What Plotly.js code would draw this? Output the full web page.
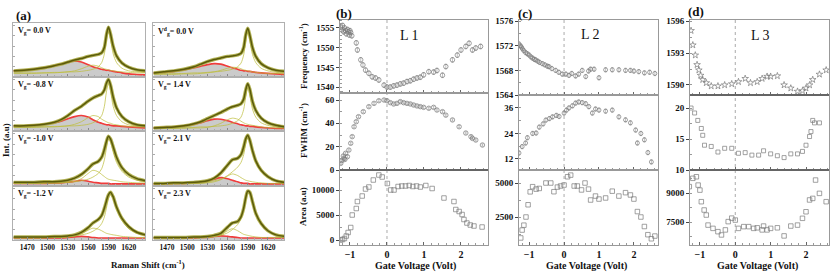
<!DOCTYPE html>
<html><head><meta charset="utf-8">
<script src="https://cdn.plot.ly/plotly-3.0.1.min.js"></script>
<style>html,body{margin:0;padding:0;background:#fff}#chart{width:830px;height:273px}</style>
</head><body><div id="chart"></div>
<script>
// ---------- (a) Raman spectra ----------
const ramanShift = [1450,1465,1480,1495,1510,1520,1530,1540,1550,1560,1567,1575,1580,1584,1587,1590,1593,1597,1602,1610,1620,1632,1645];
const ramanTicks = [1470,1500,1530,1560,1590,1620];
const specLabels = ['V<sub>g</sub>= 0.0 V','V<sub>g</sub>= -0.8 V','V<sub>g</sub>= -1.0 V','V<sub>g</sub>= -1.2 V',
                    'V<sup>d</sup><sub>g</sub>= 0.0 V','V<sub>g</sub>= 1.4 V','V<sub>g</sub>= 2.1 V','V<sub>g</sub>= 2.3 V'];

const a1Data = [0.12,0.13,0.15,0.18,0.22,0.25,0.29,0.33,0.36,0.40,0.42,0.44,0.47,0.58,0.82,0.97,0.84,0.60,0.41,0.27,0.19,0.14,0.12];
const a1Fit  = [0.12,0.13,0.15,0.18,0.22,0.25,0.29,0.31,0.29,0.24,0.20,0.17,0.15,0.14,0.13,0.13,0.12,0.11,0.10,0.08,0.06,0.05,0.04];
const a1Gm   = [0.07,0.07,0.07,0.08,0.08,0.09,0.10,0.12,0.16,0.21,0.23,0.21,0.18,0.16,0.15,0.14,0.13,0.12,0.11,0.10,0.09,0.08,0.08];
const a1Gp   = [0.08,0.08,0.08,0.08,0.09,0.09,0.10,0.10,0.11,0.13,0.15,0.20,0.28,0.45,0.72,0.90,0.74,0.45,0.28,0.17,0.12,0.10,0.09];

const a2Data = [0.10,0.10,0.11,0.13,0.17,0.22,0.30,0.40,0.48,0.58,0.64,0.69,0.72,0.80,0.93,1.00,0.90,0.66,0.45,0.28,0.18,0.12,0.10];
const a2Fit  = [0.10,0.10,0.11,0.13,0.16,0.19,0.24,0.28,0.30,0.27,0.22,0.17,0.15,0.13,0.12,0.12,0.11,0.10,0.10,0.09,0.08,0.07,0.06];
const a2Gm   = [0.07,0.07,0.07,0.08,0.08,0.09,0.10,0.13,0.18,0.26,0.30,0.28,0.23,0.20,0.18,0.16,0.15,0.13,0.12,0.10,0.09,0.08,0.08];
const a2Gp   = [0.08,0.08,0.08,0.08,0.09,0.09,0.10,0.10,0.11,0.13,0.16,0.22,0.30,0.48,0.76,0.92,0.78,0.48,0.30,0.18,0.12,0.10,0.09];

const a3Data = [0.07,0.07,0.07,0.08,0.08,0.09,0.11,0.15,0.22,0.33,0.42,0.47,0.55,0.70,0.85,0.95,0.90,0.75,0.55,0.35,0.22,0.14,0.10];
const a3Fit  = [0.05,0.05,0.05,0.05,0.06,0.06,0.07,0.09,0.11,0.09,0.07,0.06,0.05,0.05,0.05,0.05,0.04,0.04,0.04,0.04,0.04,0.04,0.04];
const a3Gm   = [0.05,0.05,0.05,0.05,0.06,0.06,0.07,0.09,0.14,0.24,0.30,0.27,0.22,0.18,0.15,0.13,0.12,0.11,0.10,0.08,0.07,0.06,0.06];
const a3Gp   = [0.05,0.05,0.05,0.06,0.06,0.06,0.07,0.08,0.10,0.13,0.17,0.24,0.33,0.50,0.72,0.90,0.85,0.65,0.45,0.28,0.17,0.11,0.08];

const a4Data = [0.06,0.06,0.06,0.06,0.07,0.07,0.08,0.10,0.15,0.24,0.33,0.40,0.48,0.62,0.76,0.88,0.93,0.84,0.64,0.42,0.26,0.15,0.10];
const a4Fit  = [0.04,0.04,0.04,0.04,0.04,0.04,0.05,0.06,0.07,0.06,0.05,0.04,0.04,0.04,0.04,0.04,0.04,0.04,0.04,0.04,0.04,0.04,0.04];
const a4Gm   = [0.04,0.04,0.04,0.05,0.05,0.05,0.06,0.08,0.12,0.19,0.23,0.21,0.18,0.15,0.13,0.12,0.11,0.10,0.09,0.07,0.06,0.05,0.05];
const a4Gp   = [0.05,0.05,0.05,0.05,0.06,0.06,0.07,0.08,0.10,0.13,0.17,0.24,0.32,0.45,0.62,0.80,0.88,0.80,0.60,0.38,0.22,0.13,0.09];

const a5Data = [0.08,0.10,0.12,0.15,0.20,0.25,0.30,0.34,0.37,0.40,0.41,0.43,0.46,0.58,0.82,0.95,0.82,0.58,0.40,0.26,0.18,0.13,0.11];
const a5Fit  = [0.08,0.09,0.11,0.14,0.18,0.21,0.24,0.26,0.25,0.21,0.18,0.15,0.13,0.12,0.12,0.11,0.11,0.10,0.09,0.08,0.07,0.06,0.05];
const a5Gm   = [0.05,0.05,0.05,0.06,0.06,0.07,0.08,0.10,0.13,0.17,0.19,0.18,0.16,0.14,0.13,0.12,0.11,0.10,0.09,0.08,0.07,0.07,0.06];
const a5Gp   = [0.07,0.07,0.07,0.07,0.08,0.08,0.09,0.10,0.11,0.13,0.15,0.20,0.27,0.43,0.70,0.88,0.72,0.44,0.28,0.17,0.12,0.09,0.08];

const a6Data = [0.06,0.07,0.08,0.10,0.14,0.18,0.24,0.30,0.36,0.43,0.47,0.50,0.53,0.62,0.80,0.92,0.82,0.58,0.40,0.25,0.16,0.11,0.08];
const a6Fit  = [0.06,0.07,0.08,0.10,0.13,0.16,0.20,0.23,0.23,0.20,0.17,0.14,0.12,0.11,0.10,0.10,0.09,0.09,0.08,0.07,0.06,0.05,0.05];
const a6Gm   = [0.05,0.05,0.05,0.05,0.06,0.06,0.07,0.10,0.15,0.22,0.25,0.23,0.19,0.16,0.14,0.13,0.12,0.11,0.10,0.08,0.07,0.06,0.06];
const a6Gp   = [0.06,0.06,0.06,0.07,0.07,0.08,0.08,0.09,0.10,0.12,0.15,0.20,0.27,0.42,0.66,0.84,0.70,0.43,0.27,0.16,0.11,0.08,0.07];

const a7Data = [0.05,0.05,0.06,0.06,0.07,0.08,0.10,0.15,0.25,0.40,0.50,0.53,0.60,0.75,0.90,0.97,0.88,0.68,0.48,0.30,0.18,0.10,0.07];
const a7Fit  = [0.04,0.04,0.05,0.05,0.06,0.07,0.09,0.13,0.16,0.14,0.11,0.08,0.06,0.05,0.05,0.05,0.04,0.04,0.04,0.04,0.04,0.04,0.04];
const a7Gm   = [0.04,0.04,0.04,0.05,0.05,0.05,0.06,0.08,0.12,0.19,0.23,0.20,0.16,0.13,0.11,0.10,0.09,0.08,0.07,0.06,0.05,0.05,0.05];
const a7Gp   = [0.05,0.05,0.05,0.06,0.06,0.07,0.08,0.10,0.13,0.20,0.27,0.36,0.45,0.60,0.80,0.93,0.85,0.65,0.45,0.28,0.17,0.10,0.07];

const a8Data = [0.05,0.05,0.05,0.05,0.06,0.06,0.07,0.09,0.13,0.25,0.33,0.36,0.45,0.62,0.82,0.95,0.93,0.75,0.52,0.32,0.18,0.10,0.07];
const a8Fit  = [0.04,0.04,0.04,0.04,0.04,0.05,0.05,0.07,0.08,0.07,0.06,0.05,0.04,0.04,0.04,0.04,0.04,0.04,0.04,0.04,0.04,0.04,0.04];
const a8Gm   = [0.04,0.04,0.04,0.04,0.05,0.05,0.05,0.07,0.10,0.18,0.22,0.18,0.14,0.11,0.10,0.09,0.08,0.07,0.06,0.05,0.05,0.05,0.05];
const a8Gp   = [0.05,0.05,0.05,0.05,0.05,0.06,0.06,0.07,0.09,0.14,0.20,0.30,0.42,0.60,0.80,0.92,0.90,0.72,0.50,0.30,0.17,0.10,0.07];

// ---------- (b) L 1 ----------
const bFreqGate = [-1.25,-1.22,-1.2,-1.17,-1.15,-1.12,-1.1,-1.07,-1.05,-1.02,-1.0,-0.98,-0.95,-0.83,-0.8,-0.71,-0.65,-0.58,-0.49,-0.4,-0.31,-0.22,-0.08,0.0,0.09,0.18,0.27,0.36,0.45,0.54,0.63,0.72,0.81,0.9,0.99,1.13,1.26,1.35,1.5,1.59,1.77,1.9,2.0,2.13,2.22,2.31,2.4,2.53];
const bFreq = [1555.2,1554.5,1555.6,1554,1555,1554.3,1553.5,1554.6,1554,1553.2,1554.3,1553.8,1553,1551.2,1549.4,1546.9,1545.6,1544.3,1543.5,1542.6,1542.3,1541.8,1540.5,1540,1540,1540.3,1540.5,1540.8,1541,1541.4,1541.6,1542,1542.3,1542.5,1543.1,1543.9,1543.8,1544.2,1543,1545.2,1546.9,1548.1,1549.4,1550.3,1551.1,1549.4,1549.9,1550.3];
const bFwhmGate = [-1.25,-1.22,-1.18,-1.16,-1.14,-1.12,-1.07,-1.03,-0.98,-0.94,-0.89,-0.83,-0.77,-0.64,-0.49,-0.35,-0.22,-0.08,0,0.09,0.18,0.27,0.36,0.45,0.54,0.63,0.72,0.81,0.9,0.99,1.13,1.26,1.35,1.5,1.59,1.77,1.95,2.13,2.27,2.31,2.4,2.58];
const bFwhm = [5.7,8,12,10,9,14.3,11.4,17.1,22.9,28.6,37.1,41.4,45.7,50,54.3,57.1,59.4,60,59.4,57.7,56.6,57.1,58.6,57.7,57.1,56.6,55.7,54.9,54.3,53.7,52.9,53.7,51.4,50,47,42.9,37.1,31.7,28.6,27.1,25.7,21.4];
const bAreaGate = [-1.25,-1.2,-1.15,-1.1,-1.05,-0.98,-0.94,-0.83,-0.8,-0.67,-0.58,-0.49,-0.37,-0.22,-0.13,0.01,0.1,0.19,0.3,0.4,0.5,0.6,0.7,0.8,0.9,1.05,1.22,1.54,1.81,1.86,1.95,2.03,2.08,2.16,2.25,2.35,2.57];
const bArea = [0,100,300,800,1500,2500,5000,6300,7700,8800,10200,10600,12000,13000,12600,11300,10000,10000,10700,10800,10800,10900,10700,10800,10600,10900,10300,8400,7700,6100,5700,5100,4100,3400,3000,2800,2600];

// ---------- (c) L 2 ----------
const cFreqGate = [-1.29,-1.25,-1.22,-1.19,-1.15,-1.1,-1.05,-1.0,-0.95,-0.9,-0.85,-0.81,-0.75,-0.7,-0.62,-0.55,-0.48,-0.43,-0.35,-0.24,-0.15,-0.05,0.05,0.14,0.22,0.33,0.42,0.52,0.62,0.7,0.76,0.86,1.0,1.19,1.38,1.57,1.76,1.9,2.0,2.14,2.3,2.45,2.6];
const cFreq = [1572.3,1572,1571.8,1571.5,1571.2,1570.9,1570.7,1570.5,1570.2,1570,1569.8,1569.7,1569.5,1569.3,1569.1,1568.9,1568.7,1568.6,1568.3,1568,1567.7,1567.4,1567.4,1567.2,1567.5,1567.1,1567.4,1568,1567,1567.9,1568.2,1568.2,1566.8,1568.1,1568.1,1568.1,1568,1568,1567.9,1567.8,1567.6,1567.7,1567.5];
const cFwhmGate = [-1.29,-1.2,-1.1,-1.05,-0.9,-0.8,-0.71,-0.6,-0.52,-0.42,-0.33,-0.22,-0.14,0,0.07,0.14,0.24,0.33,0.42,0.52,0.62,0.71,0.81,0.9,1.0,1.19,1.38,1.57,1.76,1.9,2.05,2.1,2.2,2.3,2.4,2.5];
const cFwhm = [14.8,17.8,19.5,22,24,24.2,27,28.5,30.3,31,31.8,32.5,32,33.6,35,36,37,38.3,38.8,38.5,38,36.6,33.6,35.5,35,34.5,35,31.8,30.4,29,25.6,19.5,24,21,15,10.6];
const cAreaGate = [-1.24,-1.2,-1.15,-1.09,-1.03,-0.97,-0.9,-0.8,-0.71,-0.52,-0.38,-0.29,-0.19,-0.1,0,0.1,0.19,0.29,0.38,0.5,0.6,0.7,0.76,0.9,1.0,1.19,1.38,1.57,1.76,1.9,2.0,2.1,2.2,2.3,2.4,2.5,2.6];
const cArea = [960,1540,1900,2500,3400,4350,4730,4550,4600,5000,5000,4360,4700,4780,4850,5460,5580,4780,4780,4490,5000,4550,3750,4040,3820,3900,4400,4040,4290,4120,3820,2900,2500,1800,1200,900,1100];

// ---------- (d) L 3 ----------
const dFreqGate = [-1.25,-1.2,-1.13,-1.08,-1.03,-0.98,-0.92,-0.82,-0.68,-0.49,-0.3,-0.1,0.09,0.28,0.43,0.62,0.76,0.9,1.0,1.19,1.38,1.57,1.76,1.9,2.0,2.1,2.19,2.38,2.57];
const dFreq = [1595.1,1593.75,1592.8,1591.9,1591.4,1590.9,1590.5,1590.2,1589.9,1589.9,1590,1590.1,1590.3,1590.6,1590.2,1590.3,1590.6,1590.8,1590.8,1590.85,1590,1589.7,1589.4,1589.45,1589.7,1590,1590.5,1591,1591.4];
const dFwhmGate = [-1.25,-1.15,-1.06,-0.96,-0.92,-0.87,-0.68,-0.49,-0.3,-0.1,0.09,0.28,0.47,0.66,0.8,1.0,1.19,1.38,1.57,1.76,1.9,2.0,2.1,2.14,2.19,2.24,2.38];
const dFwhm = [20,19.2,18,16.7,15.6,14,13.8,12.9,13.5,13.5,12.7,12.8,12.4,12.4,13.1,12.6,12.3,12,12.6,12.6,13,14,15.4,16.2,18,17.6,17.6];
const dAreaGate = [-1.3,-1.2,-1.1,-1.05,-1.0,-0.96,-0.88,-0.82,-0.77,-0.63,-0.49,-0.39,-0.28,-0.2,-0.1,0,0.09,0.24,0.38,0.52,0.62,0.76,0.8,0.9,1.0,1.19,1.38,1.57,1.76,1.9,2.0,2.1,2.19,2.27,2.38,2.57];
const dArea = [9330,9760,9840,9410,9150,8550,8120,7860,7340,7170,7000,6830,7090,7520,7700,7600,7170,7260,7260,7170,7200,7090,7290,7090,7170,7200,6780,7290,7340,7690,8030,8640,8720,9670,8980,8550];

const gateTicks = [-1,0,1,2];

// ================= build =================
const W=830,H=273;
const SERIF='Liberation Serif';
const tickF={family:SERIF,size:9,color:'#111',weight:'bold'};
const layout={width:W,height:H,margin:{l:0,r:0,t:0,b:0},paper_bgcolor:'#fff',plot_bgcolor:'rgba(0,0,0,0)',
  showlegend:false,annotations:[],shapes:[]};
const traces=[];
let n=0;
function addAxes(px0,px1,py0,py1,xo,yo){
  n++;
  const s=n===1?'':String(n);
  layout['xaxis'+s]=Object.assign({domain:[px0/W,px1/W],anchor:'y'+s,showgrid:false,zeroline:false,fixedrange:true},xo);
  layout['yaxis'+s]=Object.assign({domain:[1-py1/H,1-py0/H],anchor:'x'+s,showgrid:false,zeroline:false,fixedrange:true},yo);
  return {x:'x'+s,y:'y'+s};
}
function ann(text,px,py,o){
  layout.annotations.push(Object.assign({text:text,x:px/W,y:1-py/H,xref:'paper',yref:'paper',showarrow:false,
    font:{family:SERIF,size:9,color:'#111',weight:'bold'},xanchor:'center',yanchor:'middle'},o||{}));
}

// (a)
const specs=[[a1Data,a1Fit,a1Gm,a1Gp],[a2Data,a2Fit,a2Gm,a2Gp],[a3Data,a3Fit,a3Gm,a3Gp],[a4Data,a4Fit,a4Gm,a4Gp],
             [a5Data,a5Fit,a5Gm,a5Gp],[a6Data,a6Fit,a6Gm,a6Gp],[a7Data,a7Fit,a7Gm,a7Gp],[a8Data,a8Fit,a8Gm,a8Gp]];
const colsPx=[[13,145],[153,284]];
const rowsPx=[[23,77],[77,131],[131,186],[186,240]];
specs.forEach((sp,i)=>{
  const c=Math.floor(i/4), r=i%4;
  const bottom=r===3;
  const ax=addAxes(colsPx[c][0],colsPx[c][1],rowsPx[r][0],rowsPx[r][1],
    {range:[1449,1644],showline:true,mirror:true,linecolor:'#b0b0b0',linewidth:1,ticks:'inside',ticklen:3,tickcolor:'#888',
     tickvals:ramanTicks,showticklabels:bottom,tickfont:{family:SERIF,size:7.5,color:'#111',weight:'bold'},
     minor:{ticks:'inside',ticklen:2,dtick:10,tickcolor:'#aaa'}},
    {range:[0,1.05],showline:true,mirror:true,linecolor:'#b0b0b0',linewidth:1,ticks:'inside',ticklen:2,tickcolor:'#aaa',dtick:0.2,showticklabels:false});
  const base={x:ramanShift,xaxis:ax.x,yaxis:ax.y,mode:'lines',hoverinfo:'skip'};
  traces.push(Object.assign({},base,{y:sp[1],fill:'tozeroy',fillcolor:'rgba(185,185,185,0.75)',line:{color:'#f03c3c',width:1.6,shape:'spline',smoothing:0.8}}));
  traces.push(Object.assign({},base,{y:sp[2],line:{color:'rgba(190,190,60,0.9)',width:0.8,shape:'spline',smoothing:0.8}}));
  traces.push(Object.assign({},base,{y:sp[3],line:{color:'rgba(190,190,60,0.9)',width:0.8,shape:'spline',smoothing:0.8}}));
  traces.push(Object.assign({},base,{y:sp[0],line:{color:'rgba(165,165,55,0.85)',width:3.4,shape:'spline',smoothing:0.8}}));
  traces.push(Object.assign({},base,{y:sp[0],line:{color:'#5a5a0a',width:1.5,shape:'spline',smoothing:0.8}}));
  ann(specLabels[i],colsPx[c][0]+3,rowsPx[r][0]+8,{xanchor:'left',font:{family:SERIF,size:8,color:'#111',weight:'bold'}});
});
ann('(a)',14,15,{xanchor:'left',font:{family:SERIF,size:13,color:'#111',weight:'bold'}});
ann('Int. (a.u)',6,140,{textangle:-90,font:{family:SERIF,size:9,color:'#111',weight:'bold'}});
ann('Raman Shift (cm<sup>-1</sup>)',148,264,{font:{family:SERIF,size:9,color:'#111',weight:'bold'}});

// (b)(c)(d)
function panel(cfg){
  const ids=[];
  cfg.rows.forEach((row,k)=>{
    const bottom=k===cfg.rows.length-1;
    const ax=addAxes(cfg.px[0],cfg.px[1],row.py[0],row.py[1],
      {range:cfg.xr,showline:true,mirror:true,linecolor:'#999',linewidth:1,ticks:'inside',ticklen:3,tickcolor:'#666',
       tickvals:gateTicks,showticklabels:bottom,tickfont:{family:SERIF,size:10,color:'#111',weight:'bold'},
       minor:{ticks:'inside',ticklen:2,dtick:0.2,tickcolor:'#999'}},
      {range:row.yr,showline:true,mirror:true,linecolor:'#999',linewidth:1,ticks:'outside',ticklen:3,tickcolor:'#444',
       tickvals:row.ticks,tickfont:tickF,tickformat:'d',
       minor:{ticks:'inside',ticklen:2,dtick:row.minor,tickcolor:'#999'}});
    ids.push(ax);
    traces.push({x:row.gx,y:row.gy,xaxis:ax.x,yaxis:ax.y,mode:'markers',hoverinfo:'skip',
      marker:{symbol:row.sym,color:'#7a7a7a',size:row.size||4.5,line:{width:0.7}},
      error_y:row.err?{type:'constant',value:row.err,thickness:0.6,width:1.2,color:'#999'}:undefined});
  });
  layout.shapes.push({type:'line',xref:ids[0].x,yref:'paper',x0:0,x1:0,y0:1-245/H,y1:1-20/H,
    line:{color:'#aaa',width:1,dash:'dot'},layer:'below'});
  return ids;
}
panel({px:[340,488],xr:[-1.27,2.73],rows:[
  {py:[20,93],yr:[1538.5,1557],ticks:[1540,1545,1550,1555],minor:1,gx:bFreqGate,gy:bFreq,sym:'circle-open',err:0.6},
  {py:[93,170],yr:[0,66],ticks:[0,20,40,60],minor:10,gx:bFwhmGate,gy:bFwhm,sym:'circle-open',err:1.0},
  {py:[170,245],yr:[-1000,14000],ticks:[0,5000,10000],minor:2500,gx:bAreaGate,gy:bArea,sym:'square-open'}]});
panel({px:[519,658],xr:[-1.29,2.69],rows:[
  {py:[20,95],yr:[1564,1576.2],ticks:[1564,1568,1572,1576],minor:2,gx:cFreqGate,gy:cFreq,sym:'circle-open',err:0.35,size:4},
  {py:[95,170],yr:[6.8,42.1],ticks:[12,24,36],minor:6,gx:cFwhmGate,gy:cFwhm,sym:'circle-open',err:1.0,size:4},
  {py:[170,245],yr:[442,5956],ticks:[2500,5000],minor:1250,gx:cAreaGate,gy:cArea,sym:'square-open'}]});
panel({px:[690,829],xr:[-1.28,2.65],rows:[
  {py:[20,95],yr:[1589.06,1596.1],ticks:[1590,1593,1596],minor:1.5,gx:dFreqGate,gy:dFreq,sym:'star-open',size:5},
  {py:[95,170],yr:[10,22.1],ticks:[10,15,20],minor:2.5,gx:dFwhmGate,gy:dFwhm,sym:'square-open',size:4},
  {py:[170,245],yr:[6310,10190],ticks:[7500,9000],minor:750,gx:dAreaGate,gy:dArea,sym:'square-open'}]});

// dark row boundaries
[[340,488,170],[690,829,95],[690,829,170]].forEach(s=>{
  layout.shapes.push({type:'line',xref:'paper',yref:'paper',x0:s[0]/W,x1:s[1]/W,y0:1-s[2]/H,y1:1-s[2]/H,line:{color:'#333',width:1.2}});
});

ann('(b)',344,13,{font:{family:SERIF,size:13,color:'#111',weight:'bold'}});
ann('(c)',525,13,{font:{family:SERIF,size:13,color:'#111',weight:'bold'}});
ann('(d)',696,12,{font:{family:SERIF,size:13,color:'#111',weight:'bold'}});
ann('L 1',409,35,{font:{family:SERIF,size:14,color:'#111'}});
ann('L 2',590,34,{font:{family:SERIF,size:14,color:'#111'}});
ann('L 3',760,35,{font:{family:SERIF,size:14,color:'#111'}});
ann('Frequency (cm<sup>-1</sup>)',303,56,{textangle:-90});
ann('FWHM (cm<sup>-1</sup>)',303,131,{textangle:-90});
ann('Area (a.u)',303,207,{textangle:-90});
ann('Gate Voltage (Volt)',415,266,{font:{family:SERIF,size:10,color:'#111',weight:'bold'}});
ann('Gate Voltage (Volt)',586,266,{font:{family:SERIF,size:10,color:'#111',weight:'bold'}});
ann('Gate Voltage (Volt)',757,266,{font:{family:SERIF,size:10,color:'#111',weight:'bold'}});

Plotly.newPlot('chart',traces,layout,{staticPlot:true,displayModeBar:false});
</script></body></html>
